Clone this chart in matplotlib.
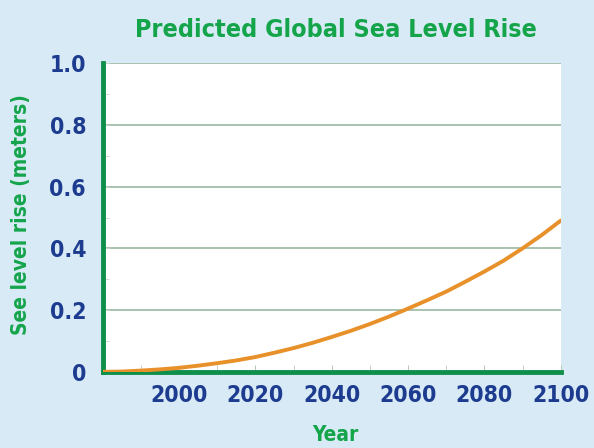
import matplotlib
matplotlib.use("Agg")
import matplotlib.pyplot as plt
import numpy as np

# values
years = [1980, 1985, 1990, 1995, 2000, 2005, 2010, 2015, 2020, 2025, 2030, 2035, 2040,
         2045, 2050, 2055, 2060, 2065, 2070, 2075, 2080, 2085, 2090, 2095, 2100]
rise_m = [0.0, 0.001, 0.004, 0.008, 0.013, 0.02, 0.028, 0.037, 0.048, 0.062, 0.077, 0.094, 0.113,
          0.133, 0.155, 0.179, 0.205, 0.232, 0.26, 0.292, 0.325, 0.36, 0.40, 0.443, 0.49]
x_ticks = [2000, 2020, 2040, 2060, 2080, 2100]
y_ticks = [0, 0.2, 0.4, 0.6, 0.8, 1.0]
y_tick_labels = ["0", "0.2", "0.4", "0.6", "0.8", "1.0"]

family = "DejaVu Sans"
stretch = "condensed"

green = "#14a54b"
navy = "#1d3c8f"
spine_green = "#0f8f4c"

fig = plt.figure(figsize=(5.94, 4.48), dpi=100)
fig.patch.set_facecolor("#d8eaf6")
ax = fig.add_axes([0.173, 0.170, 0.771, 0.689])
ax.set_facecolor("white")

ax.plot(years, rise_m, color="#e8902a", linewidth=2.8, solid_capstyle="round", zorder=3)

ax.set_xlim(1980, 2100)
ax.set_ylim(0, 1.0)
ax.set_xticks(x_ticks)
ax.set_xticks(np.arange(1990, 2101, 10), minor=True)
ax.set_yticks(y_ticks)
ax.set_yticklabels(y_tick_labels)
ax.set_yticks(np.arange(0.1, 1.0, 0.2), minor=True)
ax.grid(axis="y", which="major", color="#a9c3b0", linewidth=1.4)
ax.tick_params(axis="x", which="both", direction="in", length=5, color="#b9c9bf", pad=9)
ax.tick_params(axis="y", which="both", direction="in", length=4, color="#c9d6cc", pad=12)
for lab in ax.get_xticklabels() + ax.get_yticklabels():
    lab.set_fontfamily(family)
    lab.set_fontstretch(stretch)
    lab.set_fontweight("bold")
    lab.set_fontsize(16.5)
    lab.set_color(navy)

for side in ["top", "right"]:
    ax.spines[side].set_visible(False)
for side in ["left", "bottom"]:
    ax.spines[side].set_color(spine_green)
    ax.spines[side].set_linewidth(3.5)

fig.text(0.565, 0.932, "Predicted Global Sea Level Rise", ha="center", va="center",
         fontsize=18, fontweight="bold", color=green, family=family, fontstretch=stretch)
fig.text(0.565, 0.03, "Year", ha="center", va="center",
         fontsize=15, fontweight="bold", color=green, family=family, fontstretch=stretch)
fig.text(0.035, 0.52, "See level rise (meters)", ha="center", va="center", rotation=90,
         fontsize=15, fontweight="bold", color=green, family=family, fontstretch=stretch)

fig.savefig("out.png", dpi=100, facecolor=fig.get_facecolor())
